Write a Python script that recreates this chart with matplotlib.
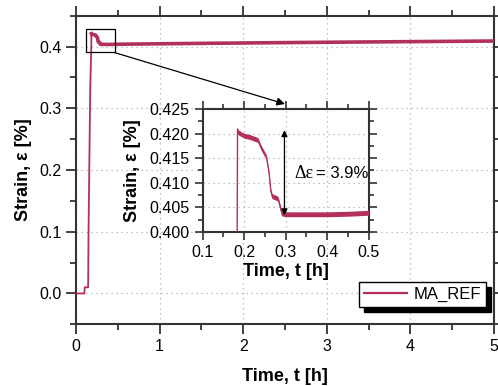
import numpy as np
import matplotlib
matplotlib.use("Agg")
import matplotlib.pyplot as plt
from matplotlib.patches import Rectangle
from matplotlib.lines import Line2D
from matplotlib.ticker import MultipleLocator

# ---- data ----
time_h = [0.0, 0.10, 0.104, 0.145, 0.150, 0.170, 0.1830, 0.1840, 0.186, 0.200, 0.215,
          0.234, 0.242, 0.254, 0.260, 0.264, 0.268, 0.282, 0.286, 0.291, 0.30,
          0.35, 0.40, 0.45, 0.50, 1.0, 1.5, 2.0, 2.5, 3.0, 3.5, 4.0, 4.5, 5.0]
strain = [0.0, 0.0, 0.010, 0.010, 0.10, 0.33, 0.400, 0.4209, 0.4202, 0.4195, 0.4192,
          0.4186, 0.4170, 0.4152, 0.4120, 0.4085, 0.4072, 0.4067, 0.4055, 0.4037, 0.4035,
          0.4035, 0.4035, 0.4036, 0.4038, 0.4045, 0.4052, 0.4058, 0.4064, 0.4070, 0.4075,
          0.4080, 0.4085, 0.4090]
noise_halfwidth = 0.0005
series_name = "MA_REF"
delta_text = "= 3.9%"

color = "#B3305E"
axcol = "#333333"

t = np.array(time_h)
s = np.array(strain)
plateau = t >= 0.184

plt.rcParams['font.family'] = ['Liberation Sans', 'DejaVu Sans']
fig = plt.figure(figsize=(4.98, 3.86), dpi=100)

ax = fig.add_axes([0.1526, 0.1598, 0.992 - 0.1526, 0.9593 - 0.1598])
ax.plot(t, s, color=color, lw=1.3, zorder=3)
ax.plot(t[plateau], s[plateau], color=color, lw=2.6, zorder=3)
ax.set_xlim(0, 5)
ax.set_ylim(-0.05, 0.45)
ax.xaxis.set_major_locator(MultipleLocator(1))
ax.xaxis.set_minor_locator(MultipleLocator(0.5))
ax.yaxis.set_major_locator(MultipleLocator(0.1))
ax.yaxis.set_minor_locator(MultipleLocator(0.05))
ax.yaxis.set_major_formatter(matplotlib.ticker.FormatStrFormatter('%.1f'))
ax.xaxis.set_major_formatter(matplotlib.ticker.FormatStrFormatter('%d'))
ax.grid(True, which='major', ls=(0, (1, 3)), color='#b0b0b0', lw=0.9)
for sp in ax.spines.values():
    sp.set_color(axcol)
    sp.set_linewidth(1.5)
ax.tick_params(which='both', direction='out', top=True, right=True, color=axcol,
               width=1.3, labelsize=11.5)
ax.tick_params(which='major', length=7)
ax.tick_params(which='minor', length=4)
ax.set_xlabel("Time, t [h]", fontsize=13, fontweight='bold', labelpad=10)
ax.set_ylabel("Strain, ε [%]", fontsize=13, fontweight='bold', labelpad=5)

# zoom rectangle
ax.add_patch(Rectangle((0.116, 0.392), 0.347, 0.036, fill=False, ec='black', lw=0.9, zorder=4))

# inset
axin = fig.add_axes([0.407, 0.399, 0.7404 - 0.407, 0.7176 - 0.399])
axin.plot(t, s, color=color, lw=1.0, zorder=3)
axin.fill_between(t[plateau], s[plateau] - noise_halfwidth, s[plateau] + noise_halfwidth,
                  color=color, lw=0, zorder=3)
axin.set_xlim(0.1, 0.5)
axin.set_ylim(0.400, 0.425)
axin.xaxis.set_major_locator(MultipleLocator(0.1))
axin.xaxis.set_minor_locator(MultipleLocator(0.05))
axin.yaxis.set_major_locator(MultipleLocator(0.005))
axin.yaxis.set_minor_locator(MultipleLocator(0.0025))
axin.yaxis.set_major_formatter(matplotlib.ticker.FormatStrFormatter('%.3f'))
axin.xaxis.set_major_formatter(matplotlib.ticker.FormatStrFormatter('%.1f'))
axin.grid(True, which='major', ls=(0, (1, 3)), color='#b0b0b0', lw=0.9)
for sp in axin.spines.values():
    sp.set_color(axcol)
    sp.set_linewidth(1.5)
axin.tick_params(which='both', direction='out', top=True, right=True, color=axcol,
                 width=1.2, labelsize=11.5)
axin.tick_params(which='major', length=6)
axin.tick_params(which='minor', length=3.5)
axin.set_xlabel("Time, t [h]", fontsize=13, fontweight='bold', labelpad=2)
axin.set_ylabel("Strain, ε [%]", fontsize=13, fontweight='bold', labelpad=6)

# delta arrow
axin.annotate("", xy=(0.297, 0.4207), xytext=(0.297, 0.4034),
              arrowprops=dict(arrowstyle='<|-|>', color='black', lw=0.9,
                              mutation_scale=9, shrinkA=0, shrinkB=0), zorder=5)
axin.text(0.322, 0.4118, "Δε", fontsize=13, family='Liberation Serif', va='center', ha='left')
axin.text(0.372, 0.4118, delta_text, fontsize=12, va='center', ha='left')

# connection arrow (main rect corner to inset top)
fig.add_artist(matplotlib.patches.FancyArrowPatch(
    posA=(115 / 498, 1 - 52.7 / 386), posB=(285 / 498, 1 - 104 / 386),
    transform=fig.transFigure, arrowstyle='-|>', mutation_scale=12,
    color='black', lw=0.9, shrinkA=0, shrinkB=0))

# legend with solid shadow
handle = Line2D([], [], color=color, lw=1.6)
leg = ax.legend([handle], [series_name], loc='lower right', bbox_to_anchor=(0.981, 0.057),
                frameon=True, fancybox=False, edgecolor='black', facecolor='white',
                framealpha=1, fontsize=12, handlelength=2.6,
                borderpad=0.3, handletextpad=0.4, borderaxespad=0)
leg.get_frame().set_linewidth(1.0)
leg.set_zorder(10)
fig.canvas.draw()
bb = leg.get_window_extent()
off = 5
shadow = Rectangle((bb.x0 + off, bb.y0 - off), bb.width, bb.height,
                   transform=None, color='black', zorder=9, clip_on=False)
ax.add_artist(shadow)

fig.savefig("out.png", dpi=100)
